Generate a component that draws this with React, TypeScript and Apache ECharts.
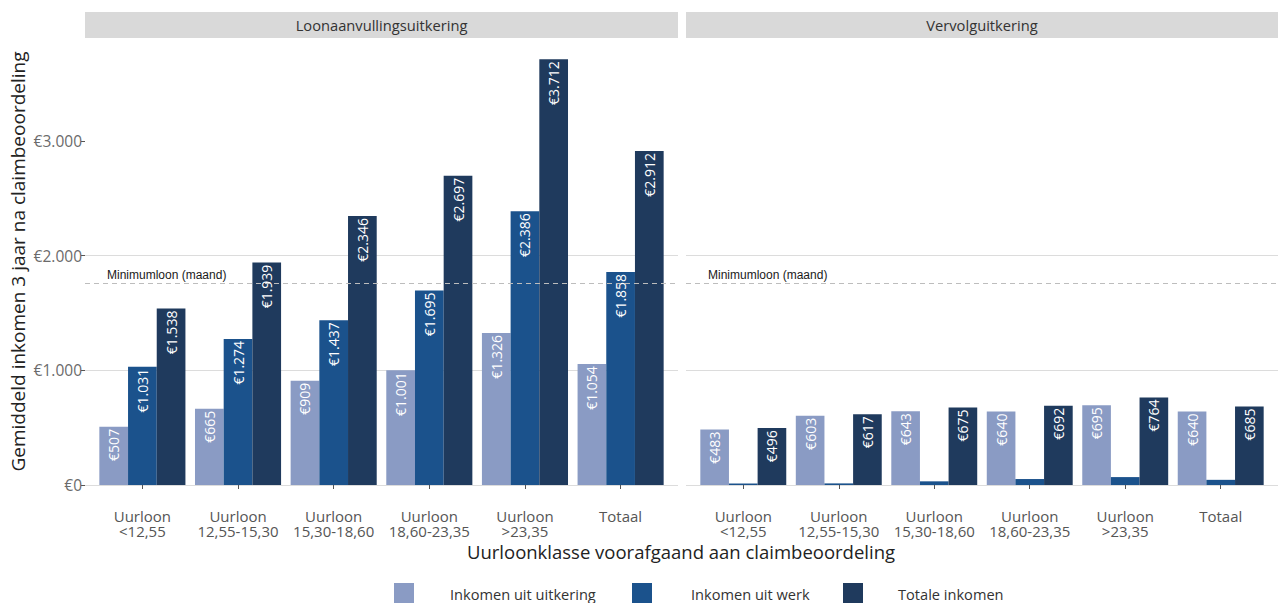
import React, { useEffect, useRef } from "react";
import * as echarts from "echarts";

const categories = [
  "Uurloon\n<12,55",
  "Uurloon\n12,55-15,30",
  "Uurloon\n15,30-18,60",
  "Uurloon\n18,60-23,35",
  "Uurloon\n>23,35",
  "Totaal",
];
const panels = ["Loonaanvullingsuitkering", "Vervolguitkering"];
const seriesNames = ["Inkomen uit uitkering", "Inkomen uit werk", "Totale inkomen"];
const loonUitkering = [507, 665, 909, 1001, 1326, 1054];
const loonWerk = [1031, 1274, 1437, 1695, 2386, 1858];
const loonTotaal = [1538, 1939, 2346, 2697, 3712, 2912];
const vervolgUitkering = [483, 603, 643, 640, 695, 640];
const vervolgWerk = [13, 14, 32, 52, 69, 45];
const vervolgTotaal = [496, 617, 675, 692, 764, 685];
const yTicks = [0, 1000, 2000, 3000];
const minimumloon = 1756;
const yTitle = "Gemiddeld inkomen 3 jaar na claimbeoordeling";
const xTitle = "Uurloonklasse voorafgaand aan claimbeoordeling";
const minLabel = "Minimumloon (maand)";

const colors = ["#8a9bc4", "#1b528c", "#1f3a5d"];
const FONT = "Open Sans";

const euro = (v: number) =>
  "€" + String(Math.round(v)).replace(/\B(?=(\d{3})+(?!\d))/g, ".");

export default function App() {
  const ref = useRef<HTMLDivElement>(null);
  useEffect(() => {
    if (!ref.current) return;
    const chart = echarts.init(ref.current, null, { renderer: "svg" });
    const yMax = 3712 * 1.05;
    const top = 38;
    const height = 447;
    const panelLeft = [85, 686];
    const panelWidth = [593, 592];

    const grids: any[] = [];
    const xAxes: any[] = [];
    const yAxes: any[] = [];
    panelLeft.forEach((pl, p) => {
      const unit = panelWidth[p] / 6.2;
      // background grid
      grids.push({ left: pl, top, width: panelWidth[p], height });
      xAxes.push({ type: "value", gridIndex: p * 2, min: 0, max: 1, show: false });
      yAxes.push({
        type: "value",
        gridIndex: p * 2,
        min: 0,
        max: yMax,
        interval: 1000,
        name: p === 0 ? yTitle : "",
        nameLocation: "middle",
        nameGap: 58,
        nameTextStyle: { fontFamily: FONT, fontSize: 19, color: "#222" },
        axisLine: { show: false },
        axisTick: {
          show: p === 0,
          length: 4,
          lineStyle: { color: "#555" },
          customValues: yTicks,
        },
        axisLabel: {
          show: p === 0,
          customValues: yTicks,
          formatter: (v: number) => euro(v),
          fontFamily: FONT,
          fontSize: 15.5,
          color: "#6b6b6b",
          margin: 3,
        },
        splitLine: {
          show: true,
          showMaxLine: false,
          lineStyle: { color: "#dcdcdc", width: 1 },
        },
      });
      // bars grid
      grids.push({ left: pl + 0.1 * unit, top, width: 6 * unit, height });
      xAxes.push({
        type: "category",
        gridIndex: p * 2 + 1,
        data: categories,
        offset: 18,
        axisLine: { show: false },
        axisTick: { show: true, alignWithLabel: true, length: 4, lineStyle: { color: "#555" } },
        axisLabel: {
          interval: 0,
          margin: 5,
          fontFamily: FONT,
          fontSize: 15,
          lineHeight: 15.5,
          color: "#555",
        },
      });
      yAxes.push({
        type: "value",
        gridIndex: p * 2 + 1,
        min: 0,
        max: yMax,
        interval: 1000,
        show: false,
        splitLine: { show: false },
      });
    });

    const panelData = [
      [loonUitkering, loonWerk, loonTotaal],
      [vervolgUitkering, vervolgWerk, vervolgTotaal],
    ];

    const series: any[] = [];
    panelData.forEach((sets, p) => {
      series.push({
        type: "line",
        xAxisIndex: p * 2,
        yAxisIndex: p * 2,
        data: [],
        z: 1,
        markLine: {
          silent: true,
          symbol: "none",
          data: [{ yAxis: minimumloon }],
          lineStyle: { type: [5, 4], color: "#bdbdbd", width: 1 },
          label: {
            show: true,
            position: "insideStartTop",
            formatter: minLabel,
            fontFamily: "Liberation Sans",
            fontSize: 12,
            color: "#1a1a1a",
            distance: [22, 3],
          },
        },
      });
      sets.forEach((vals, i) => {
        series.push({
          type: "bar",
          name: seriesNames[i],
          xAxisIndex: p * 2 + 1,
          yAxisIndex: p * 2 + 1,
          data: vals,
          z: 3,
          barGap: "0%",
          barCategoryGap: "10%",
          itemStyle: { color: colors[i] },
          label: {
            show: true,
            position: "insideTop",
            rotate: 90,
            align: "right",
            verticalAlign: "middle",
            distance: 2,
            color: "#ffffff",
            fontFamily: FONT,
            fontSize: 14,
            formatter: (d: any) => (d.value < 100 ? "" : euro(d.value)),
          },
        });
      });
    });

    const legendPos = [
      { left: 394, pad: 31 },
      { left: 632, pad: 34 },
      { left: 843, pad: 30 },
    ];
    const legends = seriesNames.map((n, i) => ({
      data: [n],
      left: legendPos[i].left,
      top: 583,
      icon: "rect",
      itemWidth: 20,
      itemHeight: 22,
      padding: 0,
      selectedMode: false,
      textStyle: {
        fontFamily: FONT,
        fontSize: 14.6,
        color: "#333",
        padding: [0, 0, 0, legendPos[i].pad],
      },
    }));

    const graphic: any[] = [];
    panels.forEach((name, p) => {
      graphic.push({
        type: "rect",
        shape: { x: panelLeft[p], y: 12, width: panelWidth[p], height: 26 },
        style: { fill: "#d9d9d9" },
        silent: true,
      });
      graphic.push({
        type: "text",
        x: panelLeft[p] + panelWidth[p] / 2,
        y: 25,
        style: {
          text: name,
          fontFamily: FONT,
          fontSize: 14.7,
          fill: "#333",
          align: "center",
          verticalAlign: "middle",
        },
        silent: true,
      });
    });
    graphic.push({
      type: "text",
      x: 681,
      y: 551,
      style: {
        text: xTitle,
        fontFamily: FONT,
        fontSize: 18.5,
        fill: "#222",
        align: "center",
        verticalAlign: "middle",
      },
      silent: true,
    });

    chart.setOption({
      animation: false,
      backgroundColor: "#ffffff",
      grid: grids,
      xAxis: xAxes,
      yAxis: yAxes,
      series,
      legend: legends,
      graphic,
    });
    return () => chart.dispose();
  }, []);
  return (
    <div
      ref={ref}
      style={{ position: "absolute", left: 0, top: 0, width: 1278, height: 603 }}
    />
  );
}
